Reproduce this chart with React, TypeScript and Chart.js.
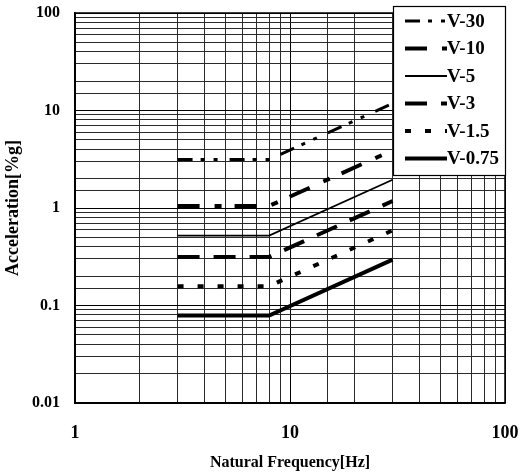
import React, { useEffect, useRef } from 'react';
import { Chart, registerables } from 'chart.js';

Chart.register(...registerables);

const FONT = "'Liberation Serif', 'Times New Roman', serif";

const seriesNames = ['V-30', 'V-10', 'V-5', 'V-3', 'V-1.5', 'V-0.75'];
const frequencies = [3, 8, 30];
const accelV30 = [3.15, 3.15, 11.8];
const accelV10 = [1.05, 1.05, 3.9];
const accelV5 = [0.52, 0.52, 1.95];
const accelV3 = [0.315, 0.315, 1.18];
const accelV15 = [0.158, 0.158, 0.59];
const accelV075 = [0.079, 0.079, 0.295];
const seriesValues = [accelV30, accelV10, accelV5, accelV3, accelV15, accelV075];

const xTickLabels = ['1', '10', '100'];
const yTickLabels = ['0.01', '0.1', '1', '10', '100'];
const xTitle = 'Natural Frequency[Hz]';
const yTitle = 'Acceleration[%g]';

const seriesDash = [[15, 8, 4, 9, 4, 12], [22, 15, 7, 13], [], [22, 14], [6, 14], []];
const seriesWidth = [3, 4, 1.8, 4, 4, 4];

const framePlugin = {
  id: 'frameAndLegend',
  afterDraw(chart: any) {
    const ctx = chart.ctx;
    const a = chart.chartArea;
    ctx.save();
    ctx.strokeStyle = '#000';
    ctx.lineWidth = 1.5;
    ctx.setLineDash([]);
    ctx.strokeRect(a.left, a.top, a.right - a.left, a.bottom - a.top);

    const x0 = 393, y0 = 6, w = 112, h = 169;
    ctx.fillStyle = '#fff';
    ctx.fillRect(x0, y0, w, h);
    ctx.lineWidth = 1.2;
    ctx.strokeRect(x0 + 0.5, y0 + 0.5, w, h);
    chart.data.datasets.forEach((ds: any, i: number) => {
      const y = y0 + 15 + i * 27.5;
      ctx.beginPath();
      ctx.setLineDash(ds.borderDash || []);
      ctx.lineWidth = ds.borderWidth;
      ctx.strokeStyle = '#000';
      ctx.moveTo(405, y);
      ctx.lineTo(447, y);
      ctx.stroke();
      ctx.setLineDash([]);
      ctx.font = `bold 19px ${FONT}`;
      ctx.fillStyle = '#000';
      ctx.textBaseline = 'middle';
      ctx.textAlign = 'left';
      ctx.fillText(ds.label, 447, y + 1);
    });
    ctx.restore();
  },
};

function decadeLabel(value: number, labels: string[], minExp: number) {
  const l = Math.log10(value);
  const r = Math.round(l);
  if (Math.abs(l - r) < 1e-6) return labels[r - minExp] ?? '';
  return '';
}

export default function App() {
  const ref = useRef<HTMLCanvasElement | null>(null);
  useEffect(() => {
    if (!ref.current) return;
    const gridColor = (c: any) => (c.tick && c.tick.major ? '#000' : '#2a2a2a');
    const chart = new Chart(ref.current, {
      type: 'scatter',
      data: {
        datasets: seriesNames.map((name, i) => ({
          label: name,
          data: frequencies.map((f, j) => ({ x: f, y: seriesValues[i][j] })),
          showLine: true,
          borderColor: '#000',
          backgroundColor: '#000',
          borderWidth: seriesWidth[i],
          borderDash: seriesDash[i],
          borderCapStyle: 'butt',
          pointRadius: 0,
          tension: 0,
        })),
      },
      options: {
        animation: false,
        responsive: false,
        layout: { padding: { top: 13, right: 15, left: 0, bottom: 0 } },
        plugins: { legend: { display: false }, tooltip: { enabled: false } },
        scales: {
          x: {
            type: 'logarithmic',
            min: 1,
            max: 100,
            position: 'bottom',
            grid: { color: gridColor, lineWidth: 1, drawTicks: false },
            border: { color: '#000', width: 1.5 },
            ticks: {
              autoSkip: false,
              maxRotation: 0,
              padding: 20,
              color: '#000',
              font: { family: FONT, size: 18, weight: 'bold' },
              callback: (v: any) => decadeLabel(Number(v), xTickLabels, 0),
            },
            title: {
              display: true,
              text: xTitle,
              color: '#000',
              font: { family: FONT, size: 16, weight: 'bold' },
              padding: { top: 4, bottom: 0 },
            },
            afterFit: (s: any) => {
              s.height = 69;
              s.paddingLeft = 0;
              s.paddingRight = 0;
            },
          },
          y: {
            type: 'logarithmic',
            min: 0.01,
            max: 100,
            grid: { color: gridColor, lineWidth: 1, drawTicks: false },
            border: { color: '#000', width: 1.5 },
            ticks: {
              autoSkip: false,
              padding: 15,
              color: '#000',
              font: { family: FONT, size: 16, weight: 'bold' },
              callback: (v: any) => decadeLabel(Number(v), yTickLabels, -2),
            },
            title: {
              display: true,
              text: yTitle,
              color: '#000',
              font: { family: FONT, size: 18, weight: 'bold' },
              padding: { top: 3, bottom: 0 },
            },
            afterFit: (s: any) => {
              s.width = 75;
              s.paddingTop = 0;
              s.paddingBottom = 0;
            },
          },
        },
      },
      plugins: [framePlugin],
    } as any);
    return () => chart.destroy();
  }, []);
  return (
    <div style={{ position: 'absolute', left: 0, top: 0, width: 520, height: 472, background: '#fff' }}>
      <canvas ref={ref} width={520} height={472} />
    </div>
  );
}
